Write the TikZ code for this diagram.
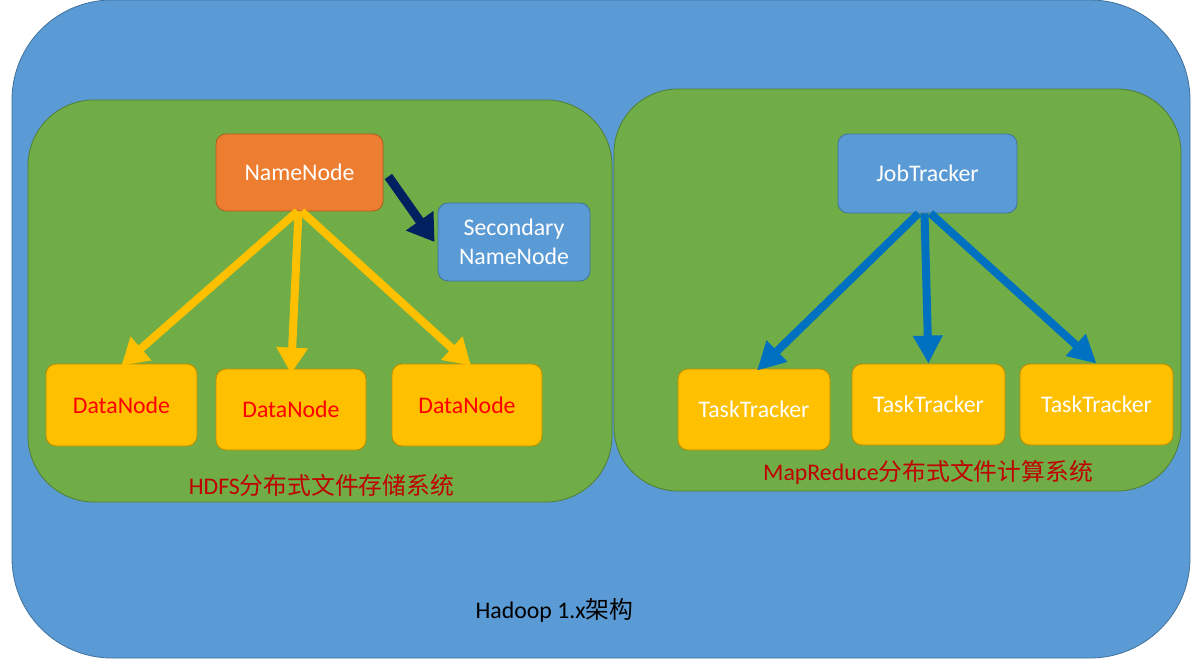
\documentclass[tikz,border=0pt]{standalone}
\usepackage{fontspec}
\setmainfont{Carlito}
\newfontfamily\cjk{Noto Sans CJK SC}
\usetikzlibrary{arrows.meta}
\definecolor{outerblue}{HTML}{5B9BD5}
\definecolor{outerborder}{HTML}{41719C}
\definecolor{grn}{HTML}{70AD47}
\definecolor{grnborder}{HTML}{507E32}
\definecolor{orng}{HTML}{ED7D31}
\definecolor{orngborder}{HTML}{AE5A21}
\definecolor{ylw}{HTML}{FFC000}
\definecolor{ylwborder}{HTML}{BC8C00}
\definecolor{navy}{HTML}{002060}
\definecolor{arrblue}{HTML}{0070C0}
\definecolor{dkred}{HTML}{C00000}
\begin{document}
\begin{tikzpicture}[x=1pt,y=-1pt,
  every node/.style={font=\fontsize{23.8}{29}\selectfont, inner sep=0pt, align=center},
  box/.style={rounded corners=10pt, line width=0.8pt},
  orangebox/.style={box, fill=orng, draw=orngborder, text=white},
  bluebox/.style={box, fill=outerblue, draw=outerborder, text=white},
  databox/.style={box, fill=ylw, draw=ylwborder, text=red},
  taskbox/.style={box, fill=ylw, draw=ylwborder, text=white},
  yarrow/.style={draw=ylw, line width=8pt, -{Triangle[width=30pt,length=26pt]}},
  barrow/.style={draw=arrblue, line width=8pt, -{Triangle[width=28pt,length=28pt]}},
  narrow/.style={draw=navy, line width=9pt, -{Triangle[width=32pt,length=26pt]}},
  caption/.style={text=dkred}
]
\useasboundingbox (0,0) rectangle (1191,659);
% outer container
\draw[fill=outerblue, draw=outerborder, line width=0.8pt, rounded corners=100pt] (12,0) rectangle (1190,658);
% green containers
\draw[fill=grn, draw=grnborder, line width=0.8pt, rounded corners=66pt] (28,100) rectangle (612,502);
\draw[fill=grn, draw=grnborder, line width=0.8pt, rounded corners=64pt] (614,89) rectangle (1181,491);

% HDFS nodes
\node[orangebox, minimum width=167pt, minimum height=77pt] (nn) at (299.5,172.5) {NameNode};
\node[bluebox, minimum width=152pt, minimum height=78pt] (snn) at (514,242) {Secondary\\NameNode};
\node[databox, minimum width=151pt, minimum height=82pt] (dn1) at (121.5,405) {DataNode};
\node[databox, minimum width=150pt, minimum height=81pt] (dn2) at (291,409.5) {DataNode};
\node[databox, minimum width=150pt, minimum height=82pt] (dn3) at (467,405) {DataNode};

% MapReduce nodes
\node[bluebox, minimum width=179pt, minimum height=79pt] (jt) at (927.5,173.5) {JobTracker};
\node[taskbox, minimum width=152pt, minimum height=81pt] (tt1) at (754,409.5) {TaskTracker};
\node[taskbox, minimum width=153pt, minimum height=81pt] (tt2) at (928.5,404.5) {TaskTracker};
\node[taskbox, minimum width=153pt, minimum height=81pt] (tt3) at (1096.5,404.5) {TaskTracker};

% arrows
\draw[yarrow] ([xshift=-2pt]nn.south) -- ([yshift=-2pt]dn1.north);
\draw[yarrow] ([xshift=-1pt]nn.south) -- ([yshift=-5pt]dn2.north);
\draw[yarrow] ([xshift=2pt]nn.south) -- ([xshift=4pt,yshift=-2pt]dn3.north);
\draw[narrow] ([xshift=5pt,yshift=-4pt]nn.east) -- ([xshift=-3pt]snn.west);

\draw[barrow] ([xshift=-9pt]jt.south) -- ([xshift=3pt,yshift=-2pt]tt1.north);
\draw[barrow] ([xshift=-3pt]jt.south) -- (tt2.north);
\draw[barrow] ([xshift=3pt]jt.south) -- (tt3.north);

% captions
\node[caption] (hdfs) at (321.5,485) {HDFS{\cjk 分布式文件存储系统}};
\node[caption] (mr) at (928,472) {MapReduce{\cjk 分布式文件计算系统}};
\node (title) at (554.5,610) {Hadoop 1.x{\cjk 架构}};
\end{tikzpicture}
\end{document}
